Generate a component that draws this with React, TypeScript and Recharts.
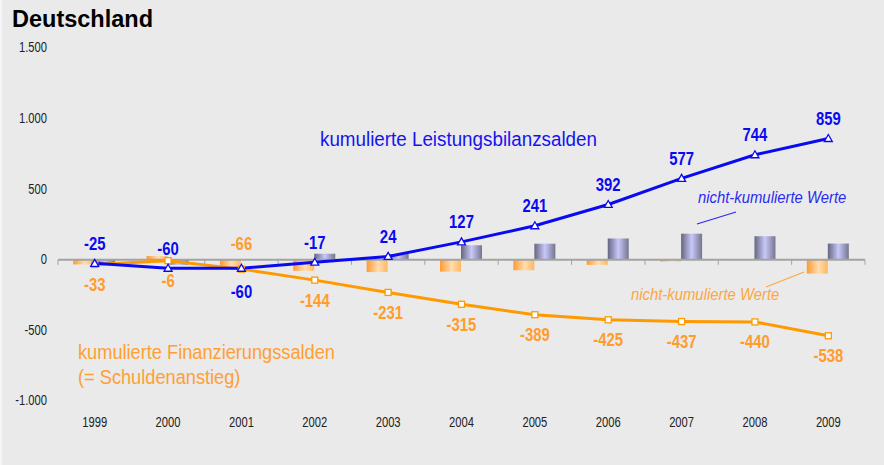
import React from "react"
import { ComposedChart, Bar, Line, XAxis, YAxis, ReferenceLine, LabelList } from "recharts"

const years = ["1999", "2000", "2001", "2002", "2003", "2004", "2005", "2006", "2007", "2008", "2009"]
// kumulierte Werte (Mrd. Euro)
const leistungKum = [-25, -60, -60, -17, 24, 127, 241, 392, 577, 744, 859]
const finanzKum = [-33, -6, -66, -144, -231, -315, -389, -425, -437, -440, -538]
// nicht-kumulierte Werte (jährliche Salden)
const leistungJahr = [-25, -35, 0, 43, 41, 103, 114, 151, 185, 167, 115]
const finanzJahr = [-33, 27, -60, -78, -87, -84, -74, -36, -12, -3, -98]
const yTicks = [-1000, -500, 0, 500, 1000, 1500]

// label placement exceptions (index of year)
const blueBelow = [2]
const orangeAbove = [2]

const BLUE = "#0A0AF0"
const ORANGE = "#FF9900"
const ORANGE_TEXT = "#FF9C2A"
const font = "'Liberation Sans', Arial, sans-serif"

const data = years.map((year, i) => ({
  year,
  leistungKum: leistungKum[i],
  finanzKum: finanzKum[i],
  leistungJahr: leistungJahr[i],
  finanzJahr: finanzJahr[i],
}))

const fmt = (v: number) => {
  const s = Math.abs(v).toString().replace(/\B(?=(\d{3})+(?!\d))/g, ".")
  return (v < 0 ? "-" : "") + s
}

// narrow text (Arial Narrow look) by horizontal squeeze
const NarrowText = ({ x, y, anchor, size, color, bold, sx, children }: any) => (
  <text
    transform={`translate(${x},${y}) scale(${sx},1)`}
    x={0}
    y={0}
    textAnchor={anchor}
    dominantBaseline="central"
    fill={color}
    fontSize={size}
    fontWeight={bold ? "bold" : "normal"}
    fontFamily={font}
  >
    {children}
  </text>
)

const XTick = (props: any) => (
  <NarrowText x={props.x} y={props.y + 4} anchor="middle" size={14} sx={0.8} color="#222">
    {props.payload.value}
  </NarrowText>
)

const YTick = (props: any) => (
  <NarrowText x={props.x} y={props.y} anchor="end" size={14} sx={0.8} color="#222">
    {fmt(props.payload.value)}
  </NarrowText>
)

const ZeroLine = (props: any) => {
  const { x1, x2, y1 } = props
  const n = years.length
  const step = (x2 - x1) / n
  return (
    <g>
      <line x1={x1} x2={x2} y1={y1} y2={y1} stroke="#A3A3A3" strokeWidth={2} />
      {Array.from({ length: n + 1 }, (_, i) => (
        <line key={i} x1={x1 + i * step} x2={x1 + i * step} y1={y1} y2={y1 + 5} stroke="#A3A3A3" strokeWidth={1} />
      ))}
    </g>
  )
}

const TriangleDot = (props: any) => {
  const { cx, cy } = props
  if (cx == null || cy == null) return null
  return (
    <path
      d={`M${cx},${cy - 4} L${cx + 4},${cy + 3} L${cx - 4},${cy + 3} Z`}
      fill="#fff"
      stroke={BLUE}
      strokeWidth={1.3}
    />
  )
}

const SquareDot = (props: any) => {
  const { cx, cy } = props
  if (cx == null || cy == null) return null
  return <rect x={cx - 3} y={cy - 3} width={6} height={6} fill="#fff" stroke={ORANGE} strokeWidth={1.3} />
}

const blueLabel = (props: any) => {
  const { x, y, value, index } = props
  const dy = blueBelow.includes(index) ? 23 : -20
  return (
    <NarrowText x={x} y={y + dy} anchor="middle" size={17.5} sx={0.85} color={BLUE} bold>
      {value}
    </NarrowText>
  )
}

const orangeLabel = (props: any) => {
  const { x, y, value, index } = props
  const dy = orangeAbove.includes(index) ? -26 : 20
  return (
    <NarrowText x={x} y={y + dy} anchor="middle" size={17.5} sx={0.85} color={ORANGE_TEXT} bold>
      {value}
    </NarrowText>
  )
}

const textStyle: React.CSSProperties = {
  position: "absolute",
  whiteSpace: "nowrap",
  fontFamily: font,
  lineHeight: 1,
  transformOrigin: "left center",
}

export default function App() {
  return (
    <div
      style={{
        position: "relative",
        width: 884,
        height: 465,
        background: "#EAEAEA",
        boxSizing: "border-box",
        borderLeft: "2px solid #F6F6F6",
        overflow: "hidden",
      }}
    >
      <style>{`body{margin:0}`}</style>
      <div style={{ ...textStyle, left: 10, top: 8, fontWeight: "bold", fontSize: 23.5, color: "#000" }}>
        Deutschland
      </div>
      <ComposedChart
        width={882}
        height={465}
        data={data}
        margin={{ top: 48, right: 17, bottom: 34, left: 0 }}
        barCategoryGap="20.7%"
        barGap={0}
        style={{ position: "absolute", left: -2, top: 0 }}
      >
        <defs>
          <linearGradient id="gradOrange" x1="0" y1="0" x2="1" y2="0">
            <stop offset="0%" stopColor="#FF9A30" />
            <stop offset="55%" stopColor="#FFDDB0" />
            <stop offset="100%" stopColor="#FFB860" />
          </linearGradient>
          <linearGradient id="gradBlue" x1="0" y1="0" x2="1" y2="0">
            <stop offset="0%" stopColor="#65657F" />
            <stop offset="50%" stopColor="#C8C8FA" />
            <stop offset="100%" stopColor="#75758F" />
          </linearGradient>
        </defs>
        <XAxis dataKey="year" axisLine={false} tickLine={false} tickMargin={12} height={30} tick={<XTick />} interval={0} />
        <YAxis
          width={58}
          domain={[-1000, 1500]}
          ticks={yTicks}
          axisLine={false}
          tickLine={false}
          tickMargin={5}
          tick={<YTick />}
        />
        <ReferenceLine y={0} shape={ZeroLine} />
        <Bar dataKey="finanzJahr" fill="url(#gradOrange)" isAnimationActive={false} />
        <Bar dataKey="leistungJahr" fill="url(#gradBlue)" isAnimationActive={false} />
        <Line
          type="linear"
          dataKey="finanzKum"
          stroke={ORANGE}
          strokeWidth={3}
          dot={<SquareDot />}
          activeDot={false}
          isAnimationActive={false}
        >
          <LabelList dataKey="finanzKum" content={orangeLabel} />
        </Line>
        <Line
          type="linear"
          dataKey="leistungKum"
          stroke={BLUE}
          strokeWidth={3}
          dot={<TriangleDot />}
          activeDot={false}
          isAnimationActive={false}
        >
          <LabelList dataKey="leistungKum" content={blueLabel} />
        </Line>
      </ComposedChart>

      <div style={{ ...textStyle, left: 318, top: 129, fontSize: 20, transform: "scaleX(0.94)", color: "#1414F0" }}>
        kumulierte Leistungsbilanzsalden
      </div>
      <div style={{ ...textStyle, left: 76, top: 342, fontSize: 20, transform: "scaleX(0.91)", color: "#FF9F33" }}>
        kumulierte Finanzierungssalden
      </div>
      <div style={{ ...textStyle, left: 76, top: 367, fontSize: 20, transform: "scaleX(0.91)", color: "#FF9F33" }}>
        (= Schuldenanstieg)
      </div>
      <div style={{ ...textStyle, left: 696, top: 189, fontSize: 16.5, transform: "scaleX(0.9)", fontStyle: "italic", color: "#2A2AF0" }}>
        nicht-kumulierte Werte
      </div>
      <div style={{ ...textStyle, left: 629, top: 286, fontSize: 16.5, transform: "scaleX(0.9)", fontStyle: "italic", color: "#FFA640" }}>
        nicht-kumulierte Werte
      </div>
      <svg width={884} height={465} style={{ position: "absolute", left: -2, top: 0, pointerEvents: "none" }}>
        <line x1={697} y1={224} x2={736} y2={212} stroke="#2A2AF0" strokeWidth={1.2} />
        <line x1={766} y1={287} x2={804} y2={272} stroke="#FFA640" strokeWidth={1.2} />
      </svg>
    </div>
  )
}
